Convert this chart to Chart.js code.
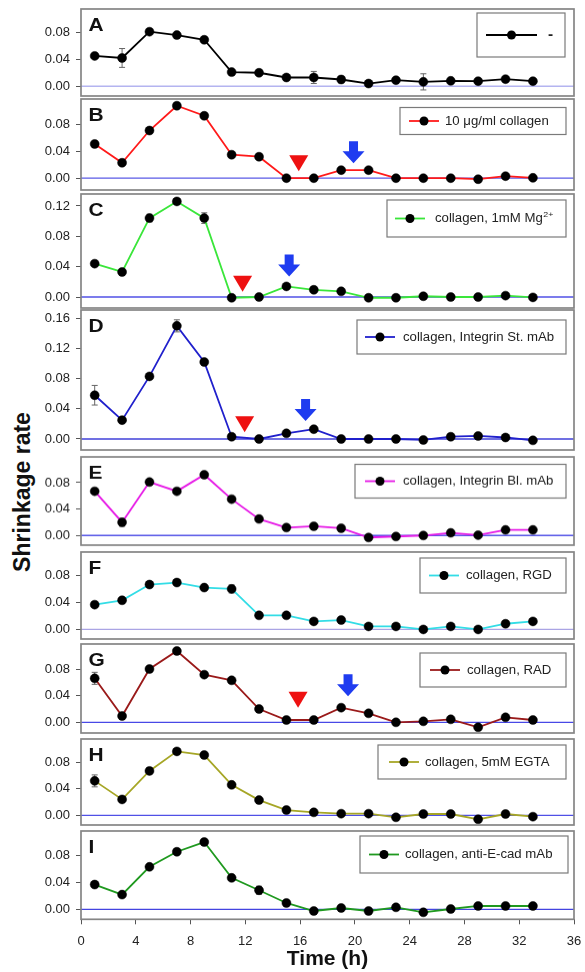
<!DOCTYPE html>
<html><head><meta charset="utf-8">
<script src="https://cdn.jsdelivr.net/npm/chart.js@4.4.1/dist/chart.umd.min.js"></script>
<style>
html,body{margin:0;padding:0;background:#fff;}
body{width:585px;height:972px;position:relative;overflow:hidden;font-family:"Liberation Sans",Arial,sans-serif;}
canvas{position:absolute;left:0;}
#ylab{position:absolute;left:22px;top:492px;transform:translate(-50%,-50%) rotate(-90deg);font-weight:bold;font-size:23px;white-space:nowrap;color:#111;}
</style></head><body>
<div id="ylab">Shrinkage rate</div>
<script>
// ---------- data ----------
const times = [1,3,5,7,9,11,13,15,17,19,21,23,25,27,29,31,33];
const xTicks = [0,4,8,12,16,20,24,28,32,36];
const yTicks3 = [0,0.04,0.08];
const yTicksC = [0,0.04,0.08,0.12];
const yTicksD = [0,0.04,0.08,0.12,0.16];

const panelLetters = ['A','B','C','D','E','F','G','H','I'];
const seriesLabels = ['-','10 μg/ml collagen','collagen, 1mM Mg','collagen, Integrin St. mAb','collagen, Integrin Bl. mAb','collagen, RGD','collagen, RAD','collagen, 5mM EGTA','collagen, anti-E-cad mAb'];
const labelSup = ['','','2+','','','','','',''];

const valsA = [0.045,0.042,0.081,0.076,0.069,0.021,0.020,0.013,0.013,0.010,0.004,0.009,0.0065,0.008,0.0075,0.0105,0.0075];
const errA  = [0,0.014,0,0.004,0,0,0,0,0.009,0.005,0,0,0.012,0,0,0,0];
const valsB = [0.051,0.023,0.071,0.108,0.093,0.035,0.032,0,0,0.012,0.012,0,0,0,-0.0015,0.003,0.0005];
const errB  = [0,0,0,0,0,0,0,0,0,0,0,0,0,0,0,0,0];
const valsC = [0.044,0.033,0.104,0.126,0.104,-0.001,0,0.014,0.0095,0.0075,-0.001,-0.001,0.001,0,0,0.0018,-0.0005];
const errC  = [0,0,0.005,0.003,0.007,0,0,0,0,0,0,0,0,0,0,0,0];
const valsD = [0.058,0.025,0.083,0.150,0.102,0.003,0,0.0075,0.013,0,0,0,-0.0013,0.003,0.004,0.002,-0.0018];
const errD  = [0.013,0.003,0,0.008,0,0,0,0,0,0,0,0,0,0,0,0,0];
const valsE = [0.067,0.020,0.081,0.067,0.092,0.055,0.025,0.012,0.014,0.011,-0.003,-0.0015,0,0.004,0.0005,0.0085,0.0085];
const errE  = [0,0.006,0.004,0,0,0,0,0,0,0,0,0,0,0,0,0,0];
const valsF = [0.037,0.0435,0.067,0.070,0.0625,0.0605,0.021,0.021,0.012,0.014,0.0045,0.0045,0,0.0045,0,0.0085,0.012];
const errF  = [0.004,0,0.004,0.003,0,0.006,0,0,0,0,0,0,0,0,0,0,0];
const valsG = [0.066,0.0095,0.080,0.107,0.0715,0.063,0.020,0.0035,0.0035,0.022,0.0135,0,0.0015,0.0045,-0.0075,0.0075,0.0035];
const errG  = [0.009,0,0,0,0,0,0,0,0,0,0,0,0,0,0,0,0];
const valsH = [0.052,0.024,0.067,0.0965,0.091,0.046,0.023,0.008,0.0045,0.0025,0.0025,-0.003,0.002,0.002,-0.006,0.002,-0.002];
const errH  = [0.009,0,0.005,0,0,0,0,0,0,0,0,0,0,0,0,0,0];
const valsI = [0.037,0.022,0.0635,0.086,0.1005,0.047,0.0285,0.0095,-0.0025,0.002,-0.0025,0.003,-0.0045,0.0005,0.005,0.005,0.005];
const errI  = [0,0,0,0,0,0.004,0.006,0,0,0,0,0,0,0,0,0,0];

// annotation anchors (time, value at top of symbol)
const triangleMarks = {B:[15.9,0.034], C:[11.8,0.028], D:[11.95,0.030], G:[15.85,0.046]};
const arrowMarks    = {B:[19.9,0.055], C:[15.2,0.056], D:[16.4,0.053], G:[19.5,0.072]};

// ---------- layout / style ----------
const allVals = [valsA,valsB,valsC,valsD,valsE,valsF,valsG,valsH,valsI];
const allErr  = [errA,errB,errC,errD,errE,errF,errG,errH,errI];
const allTicks = [yTicks3,yTicks3,yTicksC,yTicksD,yTicks3,yTicks3,yTicks3,yTicks3,yTicks3];
const colors = ['#000000','#ff1a1a','#3ae63a','#2020cc','#e619e6','#33dde6','#9a1a1a','#a6a626','#1f991f'];
const zeroColors = ['#b4b4f0','#5a5ae6','#5050e6','#4040d8','#5050e6','#aaa4e4','#4848e6','#5050e6','#4444e0'];
const frames = [[9,95.7],[98.5,189.5],[194,308.3],[310,450],[456.5,545],[552,638.5],[644,733],[739,825],[831,919.3]];
const yRanges = [[-0.0145,0.1147],[-0.0176,0.118],[-0.0145,0.1358],[-0.0146,0.171],[-0.0146,0.119],[-0.0143,0.1156],[-0.016,0.1175],[-0.0146,0.1152],[-0.0149,0.117]];
const legends = [
  [477,13,565,57,486,537,548],
  [400,107,566,134,409,439,445],
  [387,200,566,237,395,425,435],
  [357,320,566,354,365,395,403],
  [355,464,566,498,365,395,403],
  [420,558,566,593,429,459,466],
  [420,653,566,687,430,460,467],
  [378,745,566,779,389,419,425],
  [360,836,568,873,369,399,405]
];
const HS = 1.1; // horizontal text stretch of the reference

Chart.defaults.font.family = '"Liberation Sans", Arial, sans-serif';
Chart.defaults.color = '#222';

const PAD = 12;

function stretchText(ctx, txt, x, y, sx) {
  ctx.save(); ctx.translate(x, y); ctx.scale(sx, 1); ctx.fillText(txt, 0, 0); ctx.restore();
}

const deco = {
  id: 'panelDeco',
  beforeDatasetsDraw(chart, args, o) {
    const {ctx, chartArea: a, scales: {x, y}} = chart;
    ctx.save();
    const y0 = y.getPixelForValue(0);
    ctx.strokeStyle = o.zeroColor; ctx.lineWidth = 1.3;
    ctx.beginPath(); ctx.moveTo(a.left, y0); ctx.lineTo(a.right, y0); ctx.stroke();
    ctx.strokeStyle = '#666'; ctx.lineWidth = 1;
    o.err.forEach((e, i) => {
      if (!e) return;
      const px = x.getPixelForValue(times[i]);
      const v = o.vals[i];
      const p1 = y.getPixelForValue(v + e), p2 = y.getPixelForValue(v - e);
      ctx.beginPath();
      ctx.moveTo(px, p1); ctx.lineTo(px, p2);
      ctx.moveTo(px - 3, p1); ctx.lineTo(px + 3, p1);
      ctx.moveTo(px - 3, p2); ctx.lineTo(px + 3, p2);
      ctx.stroke();
    });
    ctx.restore();
  },
  afterDatasetsDraw(chart, args, o) {
    const {ctx, chartArea: a, scales: {x, y}} = chart;
    const off = o.canvasTop;
    ctx.save();
    ctx.strokeStyle = '#858585'; ctx.lineWidth = 1.7;
    ctx.strokeRect(a.left, a.top, a.right - a.left, a.bottom - a.top);
    ctx.fillStyle = '#111';
    ctx.font = 'bold 19px "Liberation Sans", Arial, sans-serif';
    ctx.textBaseline = 'top'; ctx.textAlign = 'left';
    stretchText(ctx, o.letter, a.left + 7.5, a.top + 7.5, 1.1);
    if (o.tri) {
      const px = x.getPixelForValue(o.tri[0]), py = y.getPixelForValue(o.tri[1]);
      ctx.fillStyle = '#ee1111';
      ctx.beginPath(); ctx.moveTo(px - 9.5, py); ctx.lineTo(px + 9.5, py); ctx.lineTo(px, py + 16); ctx.closePath(); ctx.fill();
    }
    if (o.arrow) {
      const px = x.getPixelForValue(o.arrow[0]), py = y.getPixelForValue(o.arrow[1]);
      ctx.fillStyle = '#1f3cf0';
      ctx.beginPath();
      ctx.moveTo(px - 4.5, py); ctx.lineTo(px + 4.5, py); ctx.lineTo(px + 4.5, py + 10);
      ctx.lineTo(px + 11, py + 10); ctx.lineTo(px, py + 22); ctx.lineTo(px - 11, py + 10);
      ctx.lineTo(px - 4.5, py + 10); ctx.closePath(); ctx.fill();
    }
    const L = o.legend;
    const t = L[1] - off, b = L[3] - off, cy = (t + b) / 2;
    ctx.fillStyle = '#fff';
    ctx.fillRect(L[0], t, L[2] - L[0], b - t);
    ctx.strokeStyle = '#7a7a7a'; ctx.lineWidth = 1.2;
    ctx.strokeRect(L[0], t, L[2] - L[0], b - t);
    ctx.strokeStyle = o.color; ctx.lineWidth = 1.8;
    ctx.beginPath(); ctx.moveTo(L[4], cy); ctx.lineTo(L[5], cy); ctx.stroke();
    ctx.fillStyle = '#000';
    ctx.beginPath(); ctx.arc((L[4] + L[5]) / 2, cy, 4.5, 0, Math.PI * 2); ctx.fill();
    ctx.fillStyle = '#222';
    ctx.font = (o.letter === 'A' ? 'bold 14px' : '12px') + ' "Liberation Sans", Arial, sans-serif';
    ctx.textBaseline = 'middle';
    stretchText(ctx, o.label, L[6], cy + 0.5, HS);
    if (o.sup) {
      const w = ctx.measureText(o.label).width * HS;
      ctx.font = '8px "Liberation Sans", Arial, sans-serif';
      stretchText(ctx, o.sup, L[6] + w + 0.5, cy - 4, HS);
    }
    ctx.restore();
  }
};

for (let p = 0; p < 9; p++) {
  const isLast = p === 8;
  const [ft, fb] = frames[p];
  const canvasTop = ft - PAD;
  const height = isLast ? (972 - canvasTop) : (fb - ft + 2 * PAD);
  const wrap = document.createElement('div');
  wrap.style.cssText = 'position:absolute;left:0;top:' + canvasTop + 'px;width:585px;height:' + height + 'px;';
  document.body.appendChild(wrap);
  const cv = document.createElement('canvas');
  cv.style.top = '0px';
  cv.style.width = '585px';
  cv.style.height = height + 'px';
  cv.width = 585; cv.height = Math.round(height);
  wrap.appendChild(cv);
  const ticksArr = allTicks[p];
  new Chart(cv, {
    type: 'line',
    data: {
      datasets: [{
        label: seriesLabels[p],
        data: times.map((t, i) => ({x: t, y: allVals[p][i]})),
        borderColor: colors[p],
        borderWidth: 1.8,
        pointRadius: 4.5,
        pointBackgroundColor: '#000',
        pointBorderColor: '#000',
        pointBorderWidth: 0.5,
        tension: 0,
        clip: false
      }]
    },
    options: {
      responsive: false,
      animation: false,
      events: [],
      layout: {padding: {left: 0, right: 11, top: PAD, bottom: isLast ? 0 : PAD}},
      plugins: {
        legend: {display: false},
        tooltip: {enabled: false},
        panelDeco: {
          zeroColor: zeroColors[p], err: allErr[p], vals: allVals[p], letter: panelLetters[p],
          tri: triangleMarks[panelLetters[p]], arrow: arrowMarks[panelLetters[p]],
          legend: legends[p], color: colors[p], label: seriesLabels[p], sup: labelSup[p], canvasTop: canvasTop
        }
      },
      scales: {
        x: {
          type: 'linear', min: 0, max: 36, display: isLast,
          afterBuildTicks: s => { s.ticks = xTicks.map(v => ({value: v})); },
          afterFit: s => { if (isLast) { s.height = 972 - fb; } s.paddingLeft = 0; s.paddingRight = 0; },
          ticks: {font: {size: 13}, color: '#222', padding: 9, maxRotation: 0},
          grid: {drawOnChartArea: false, drawTicks: true, tickLength: 5, color: '#555'},
          border: {display: false},
          title: {display: isLast, text: 'Time (h)', font: {size: 21, weight: 'bold'}, color: '#111', padding: {top: 0, bottom: 0}}
        },
        y: {
          type: 'linear', min: yRanges[p][0], max: yRanges[p][1],
          afterBuildTicks: s => { s.ticks = ticksArr.map(v => ({value: v})); },
          afterFit: s => { s.width = 81; s.paddingTop = 0; s.paddingBottom = 0; },
          ticks: {font: {size: 13}, color: '#222', padding: 6, callback: v => v.toFixed(2)},
          grid: {drawOnChartArea: false, drawTicks: true, tickLength: 5, color: '#555'},
          border: {display: false}
        }
      }
    },
    plugins: [deco]
  });
}
</script>
</body></html>
